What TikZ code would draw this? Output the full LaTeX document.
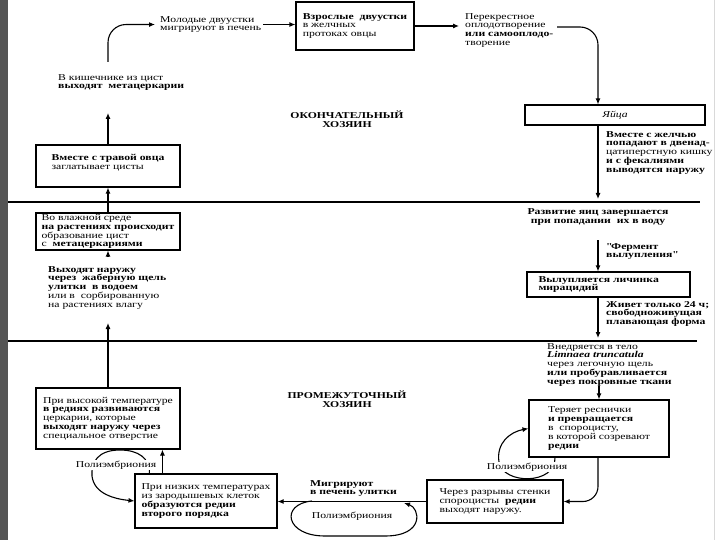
\documentclass[tikz,border=0pt]{standalone}
\usepackage{fontspec}
\setmainfont[FakeStretch=1.3]{Liberation Serif}
\usetikzlibrary{arrows.meta}
\definecolor{stripgray}{RGB}{85,85,85}
\newcommand\labelfont{\fontsize{9}{8.8}\selectfont}
\tikzset{
  >={Latex[length=6pt,width=5pt]},
  box/.style={draw, line width=1.1pt, inner xsep=3pt, inner ysep=1pt, align=left, font=\labelfont},
  txt/.style={inner sep=0pt, align=left, font=\labelfont},
  btxt/.style={inner sep=0pt, align=left, font=\labelfont\bfseries},
  poly/.style={txt, fill=white, inner xsep=1pt, inner ysep=1pt},
  arr/.style={->, line width=1.1pt}
}
\begin{document}
\begin{tikzpicture}[x=1pt,y=-1pt]
\useasboundingbox (0,0) rectangle (720,540);
\fill [stripgray] (0,0) rectangle (8,540);
\draw [gray!30] (714,0) -- (714,540);
\draw [line width=1.2pt] (8,202) -- (700,202);
\draw [line width=1.2pt] (8,341) -- (697,341);

\node (adult) at (355,26) [box, minimum width=118, minimum height=48] {\textbf{Взрослые\ \ двуустки}\\в желчных\\протоках овцы};
\node (young) at (160,16) [txt, anchor=north west] {Молодые двуустки\\мигрируют в печень};
\node (cross) at (465,13) [txt, anchor=north west] {Перекрестное\\оплодотворение\\\textbf{или самооплодо-}\\творение};
\node (eggs) at (615,115) [box, minimum width=180, minimum height=20] {\textit{Яйца}};
\node (bile) at (606,131) [txt, anchor=north west] {\textbf{Вместе с желчью}\\\textbf{попадают в двенад-}\\цатиперстную кишку\\\textbf{и с фекалиями}\\\textbf{выводятся наружу}};
\node (intest) at (58,74) [txt, anchor=north west] {В кишечнике из цист\\\textbf{выходят\ \ метацеркарии}};
\node (host1) at (347,119) [btxt, align=center] {ОКОНЧАТЕЛЬНЫЙ\\ХОЗЯИН};
\node (grass) at (108,166) [box, minimum width=144, minimum height=42] {\textbf{Вместе с травой овца}\\заглатывает цисты\\~};
\node (develop) at (598,217) [btxt, align=center] {Развитие яиц завершается\\при попадании\ \ их в воду};
\node (wet) at (108,231.5) [box, minimum width=144, minimum height=37] {Во влажной среде\\\textbf{на растениях происходит}\\образование цист\\с\ \ \textbf{метацеркариями}};
\node (enzyme) at (606,243) [btxt, anchor=north west] {\textquotedbl Фермент\\вылупления\textquotedbl};
\node (exit) at (48,266) [txt, anchor=north west] {\textbf{Выходят наружу}\\\textbf{через\ \ жаберную щель}\\\textbf{улитки\ \ в водоем}\\или в\ \ сорбированную\\на растениях влагу};
\node (hatch) at (608.5,284.5) [box, minimum width=163, minimum height=25, text width=140] {\textbf{Вылупляется личинка}\\\textbf{мирацидий}};
\node (lives) at (606,301) [btxt, anchor=north west] {Живет только 24 ч;\\свободноживущая\\плавающая форма};
\node (enter) at (547,343) [txt, anchor=north west] {Внедряется в тело\\\textbf{\textit{Limnaea truncatula}}\\через легочную щель\\\textbf{или пробуравливается}\\\textbf{через покровные ткани}};
\node (host2) at (347,399) [btxt, align=center] {ПРОМЕЖУТОЧНЫЙ\\ХОЗЯИН};
\node (high) at (108,418.5) [box, minimum width=144, minimum height=61] {При высокой температуре\\\textbf{в редиях развиваются}\\церкарии, которые\\\textbf{выходят наружу через}\\специальное отверстие};
\node (lose) at (599,428.5) [box, minimum width=140, minimum height=57] {Теряет реснички\\\textbf{и превращается}\\в\ \ спороцисту,\\в которой созревают\\\textbf{редии}};
\node (low) at (206,501) [box, minimum width=142, minimum height=54] {При низких температурах\\из зародышевых клеток\\\textbf{образуются редии}\\\textbf{второго порядка}};
\node (rupture) at (495,501.5) [box, minimum width=136, minimum height=43] {Через разрывы стенки\\спороцисты\ \ \textbf{редии}\\выходят наружу.};
\node (migr) at (310,480) [btxt, anchor=north west] {Мигрируют\\в печень улитки};

\coordinate (col) at (598,0);
\coordinate (crossOut) at (557,27);
\coordinate (bileEnd) at (598,199);
\coordinate (devOut) at (598,240);
\coordinate (livesEnd) at (598,338);
\coordinate (exitIn) at (108,323);
\coordinate (exitOut) at (108,257);
\coordinate (intestIn) at (108,113);
\coordinate (intestOut) at (108,62);
\coordinate (loopA) at (312,501);
\coordinate (loopB) at (404,503);
\coordinate (loseLoop) at ([xshift=-44pt]lose.south);
\coordinate (lowUp) at ([xshift=28pt]low.north west);
\coordinate (lowLoop) at ([xshift=15pt]low.north west);

\draw [arr] ([xshift=2pt]young.east) -- (young.east -| adult.west);
\draw [arr] (adult.east) -- ([xshift=-6pt]adult.east -| cross.west);
\draw [arr, rounded corners=18pt] (crossOut) -| (col |- eggs.north);
\draw [arr] (col |- eggs.south) -- (bileEnd);
\draw [arr] (devOut) -- (col |- hatch.north);
\draw [arr] (col |- hatch.south) -- (livesEnd);
\draw [arr] (lose.north |- enter.south) -- (lose.north);
\draw [arr] (loseLoop) .. controls (556,485) and (503,485) .. (499,462) .. controls (496,443) and (510,432) .. (lose.west);
\draw [arr, rounded corners=15pt] (col |- lose.south) |- (rupture.east);
\draw [arr] (rupture.west) -- (rupture.west -| low.east);
\draw [arr] (loopA) .. controls (280,504) and (285,536) .. (325,536) -- (385,536) .. controls (425,536) and (420,508) .. (loopB);
\draw [arr] (lowUp) -- (lowUp |- high.south);
\draw [arr] (lowLoop) .. controls (150,458) and (138,450) .. (120,450) .. controls (98,450) and (91,462) .. (92,476) .. controls (94,494) and (115,499) .. (low.west);
\draw [arr] (high.north) -- (exitIn);
\draw [arr] (exitOut) -- (wet.south);
\draw [arr] (wet.north) -- (grass.south);
\draw [arr] (grass.north) -- (intestIn);
\draw [arr, rounded corners=18pt] (intestOut) |- ([xshift=-5pt]young.west);

\node (poly1) at (116,465) [poly] {Полиэмбриония};
\node (poly2) at (527,467) [poly] {Полиэмбриония};
\node (poly3) at (352,516) [txt] {Полиэмбриония};
\end{tikzpicture}
\end{document}
